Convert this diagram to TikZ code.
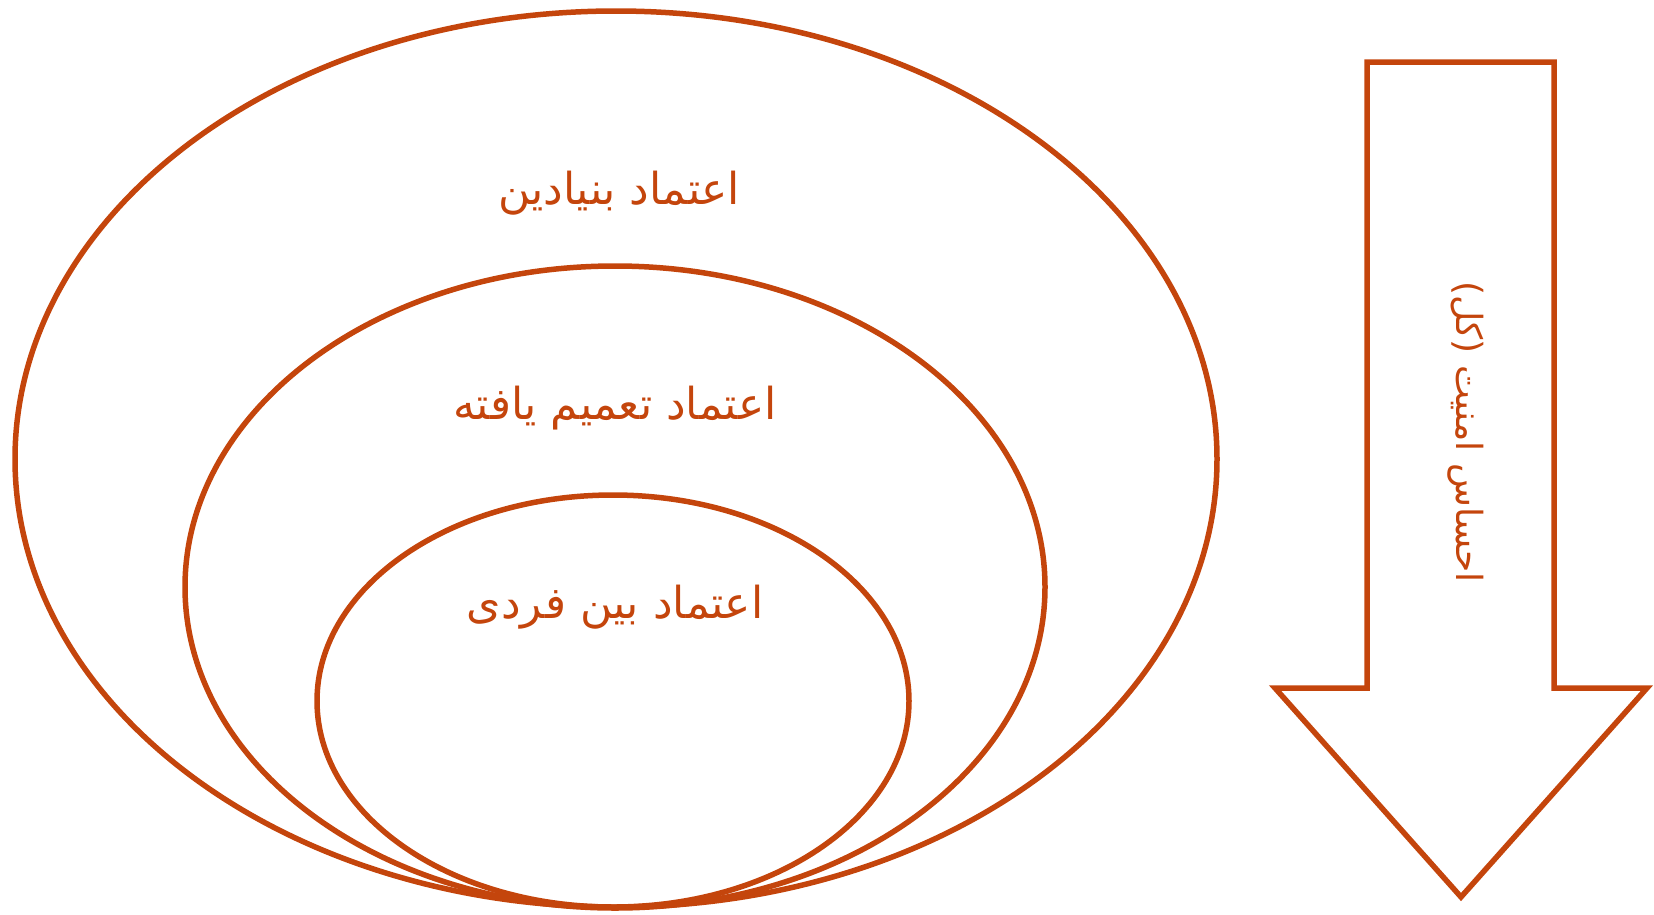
\documentclass[tikz,border=0pt]{standalone}
\usepackage{fontspec}
\TeXXeTstate=1
\newfontfamily\arabicfont[Script=Arabic]{DejaVu Sans}
\definecolor{rust}{HTML}{C4450C}
\tikzset{
  ring/.style={draw=rust, line width=5.5pt},
  lbl/.style={text=rust, font=\arabicfont\fontsize{44}{52}\selectfont, inner sep=0pt},
  vlbl/.style={text=rust, font=\arabicfont\fontsize{36}{44}\selectfont, inner sep=0pt},
}
\begin{document}
\begin{tikzpicture}[x=1pt,y=-1pt]
\useasboundingbox (0,0) rectangle (1654,914);
\draw[ring] (616,459) ellipse [x radius=601, y radius=448];
\draw[ring] (615,587) ellipse [x radius=430, y radius=321];
\draw[ring] (613,701) ellipse [x radius=296, y radius=206];
\node[lbl] (t1) at (619,193) {\beginR اعتماد بنیادین\endR};
\node[lbl] (t2) at (615,408) {\beginR اعتماد تعمیم یافته\endR};
\node[lbl] (t3) at (615,607) {\beginR اعتماد بین فردی\endR};
\draw[ring, line join=miter] (1367,62) -- (1554,62) -- (1554,688) -- (1647,688) -- (1461,897) -- (1275,688) -- (1367,688) -- cycle;
\node[vlbl, rotate=-90] (t4) at (1466,432) {\beginR احساس امنیت (کل)\endR};
\end{tikzpicture}
\end{document}
